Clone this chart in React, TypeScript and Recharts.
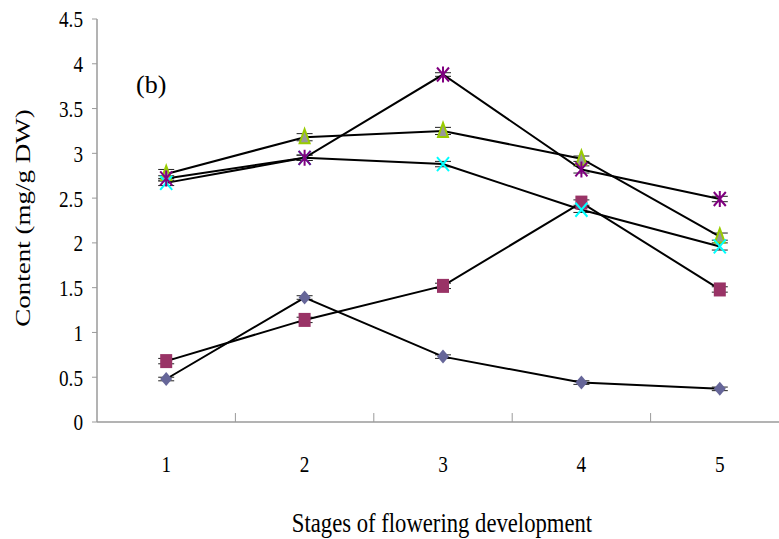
import React from 'react';
import { LineChart, Line, XAxis, YAxis, ReferenceLine, ErrorBar } from 'recharts';

// stages of flowering development
const stages = [1, 2, 3, 4, 5];

// content (mg/g DW) per series
const diamondSeries = [0.48, 1.39, 0.73, 0.44, 0.37];
const squareSeries = [0.68, 1.14, 1.52, 2.45, 1.48];
const triangleSeries = [2.77, 3.18, 3.25, 2.94, 2.07];
const crossSeries = [2.67, 2.95, 2.88, 2.37, 1.96];
const starSeries = [2.72, 2.95, 3.88, 2.82, 2.49];

// small error bars
const diamondErr = [0.02, 0.02, 0.02, 0.02, 0.02];
const squareErr = [0.03, 0.03, 0.03, 0.03, 0.03];
const triangleErr = [0.05, 0.04, 0.04, 0.03, 0.04];
const crossErr = [0.03, 0.03, 0.03, 0.03, 0.04];
const starErr = [0.03, 0.03, 0.02, 0.04, 0.03];

const yTicks = [0, 0.5, 1, 1.5, 2, 2.5, 3, 3.5, 4, 4.5];
const stageSeparators = [1.5, 2.5, 3.5, 4.5];

const data = stages.map((s, i) => ({
    stage: s,
    diamond: diamondSeries[i],
    square: squareSeries[i],
    triangle: triangleSeries[i],
    cross: crossSeries[i],
    star: starSeries[i],
    diamondErr: diamondErr[i],
    squareErr: squareErr[i],
    triangleErr: triangleErr[i],
    crossErr: crossErr[i],
    starErr: starErr[i],
}));

const FONT = '"Liberation Serif", "Times New Roman", serif';
const AXIS_GRAY = '#9a9a9a';

const DiamondDot = (p: any) => (
    <polygon
        key={`dia-${p.index}`}
        points={`${p.cx},${p.cy - 7} ${p.cx + 6},${p.cy} ${p.cx},${p.cy + 7} ${p.cx - 6},${p.cy}`}
        fill="#666699"
    />
);

const SquareDot = (p: any) => (
    <rect key={`sq-${p.index}`} x={p.cx - 6} y={p.cy - 7} width={12} height={14} fill="#993366" />
);

const TriangleDot = (p: any) => (
    <polygon
        key={`tri-${p.index}`}
        points={`${p.cx},${p.cy - 8} ${p.cx + 5},${p.cy + 6} ${p.cx - 5},${p.cy + 6}`}
        fill="#999999"
        stroke="#99CC00"
        strokeWidth={2}
    />
);

const CrossDot = (p: any) => (
    <path
        key={`x-${p.index}`}
        d={`M${p.cx - 6},${p.cy - 7}L${p.cx + 6},${p.cy + 7}M${p.cx + 6},${p.cy - 7}L${p.cx - 6},${p.cy + 7}`}
        stroke="#00FFFF"
        strokeWidth={2}
        fill="none"
    />
);

const StarDot = (p: any) => (
    <path
        key={`st-${p.index}`}
        d={`M${p.cx - 6},${p.cy - 7}L${p.cx + 6},${p.cy + 7}M${p.cx + 6},${p.cy - 7}L${p.cx - 6},${p.cy + 7}M${p.cx},${p.cy - 8}L${p.cx},${p.cy + 8}`}
        stroke="#800080"
        strokeWidth={2}
        fill="none"
    />
);

const YTick = ({ x, y, payload }: any) => (
    <text
        transform={`translate(${x} ${y}) scale(0.8 1)`}
        textAnchor="end"
        dy="0.35em"
        fontFamily={FONT}
        fontSize={24}
        fill="#000"
    >
        {payload.value}
    </text>
);

const XTick = ({ x, y, payload }: any) => (
    <text
        transform={`translate(${x} ${y + 50}) scale(0.8 1)`}
        textAnchor="middle"
        fontFamily={FONT}
        fontSize={24}
        fill="#000"
    >
        {payload.value}
    </text>
);

const errProps = { width: 8, stroke: '#222', strokeWidth: 1, direction: 'y' as const };

export default function App() {
    return (
        <div style={{ position: 'absolute', left: 0, top: 0, width: 779, height: 539, overflow: 'hidden', background: '#fff' }}>
            <LineChart width={800} height={539} data={data} margin={{ top: 19, right: 11, left: 0, bottom: 0 }}>
                <XAxis
                    dataKey="stage"
                    type="number"
                    domain={[0.5, 5.5]}
                    ticks={stages}
                    allowDataOverflow
                    height={117}
                    tickLine={false}
                    tickSize={0}
                    tickMargin={0}
                    axisLine={{ stroke: AXIS_GRAY, strokeWidth: 1.5 }}
                    tick={<XTick />}
                    interval={0}
                />
                <YAxis
                    type="number"
                    domain={[0, 4.5]}
                    ticks={yTicks}
                    width={97}
                    tickSize={5}
                    tickMargin={9}
                    axisLine={{ stroke: AXIS_GRAY, strokeWidth: 1.5 }}
                    tickLine={{ stroke: AXIS_GRAY }}
                    tick={<YTick />}
                    interval={0}
                />
                {stageSeparators.map((s) => (
                    <ReferenceLine
                        key={s}
                        segment={[{ x: s, y: 0 }, { x: s, y: 0.1 }]}
                        stroke={AXIS_GRAY}
                        strokeWidth={1}
                    />
                ))}
                <Line dataKey="diamond" stroke="#000" strokeWidth={2} dot={DiamondDot} isAnimationActive={false}>
                    <ErrorBar dataKey="diamondErr" {...errProps} />
                </Line>
                <Line dataKey="square" stroke="#000" strokeWidth={2} dot={SquareDot} isAnimationActive={false}>
                    <ErrorBar dataKey="squareErr" {...errProps} />
                </Line>
                <Line dataKey="triangle" stroke="#000" strokeWidth={2} dot={TriangleDot} isAnimationActive={false}>
                    <ErrorBar dataKey="triangleErr" {...errProps} />
                </Line>
                <Line dataKey="cross" stroke="#000" strokeWidth={2} dot={CrossDot} isAnimationActive={false}>
                    <ErrorBar dataKey="crossErr" {...errProps} />
                </Line>
                <Line dataKey="star" stroke="#000" strokeWidth={2} dot={StarDot} isAnimationActive={false}>
                    <ErrorBar dataKey="starErr" {...errProps} />
                </Line>
            </LineChart>
            <svg width={779} height={539} style={{ position: 'absolute', left: 0, top: 0, pointerEvents: 'none' }}>
                <text x={136} y={93} fontFamily={FONT} fontSize={26} fill="#000">(b)</text>
                <text
                    transform="translate(30 218) rotate(-90) scale(1 0.8)"
                    textAnchor="middle"
                    fontFamily={FONT}
                    fontSize={27}
                    fill="#000"
                >
                    Content (mg/g DW)
                </text>
                <text
                    transform="translate(442 532) scale(0.81 1)"
                    textAnchor="middle"
                    fontFamily={FONT}
                    fontSize={28}
                    fill="#000"
                >
                    Stages of flowering development
                </text>
            </svg>
        </div>
    );
}
